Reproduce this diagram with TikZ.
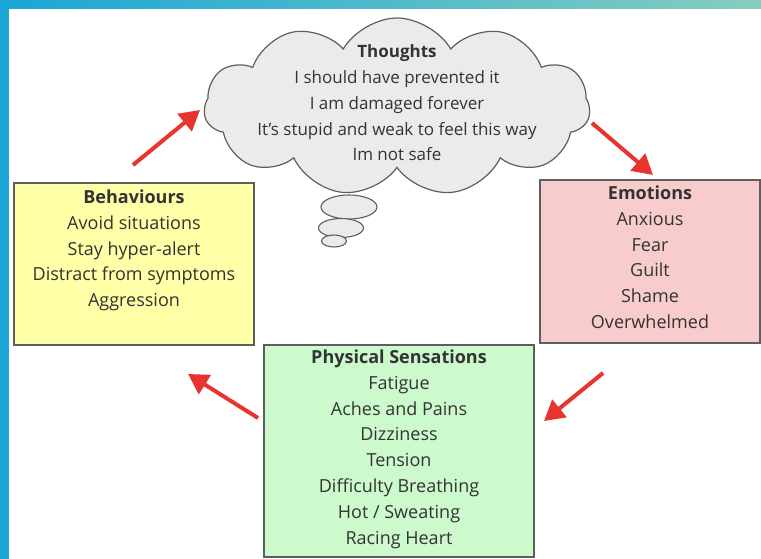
\documentclass[tikz,border=0pt]{standalone}
\usepackage{fontspec}
\setmainfont{Open Sans}
\usetikzlibrary{shapes.symbols,shapes.geometric,arrows.meta,positioning}

\definecolor{behavfill}{HTML}{FFFFA8}
\definecolor{emofill}{HTML}{F8CCCC}
\definecolor{physfill}{HTML}{CCFACC}
\definecolor{cloudfill}{HTML}{EBEBEB}
\definecolor{arrowred}{HTML}{E8332F}
\definecolor{inkgray}{HTML}{333333}
\definecolor{framegray}{HTML}{5E5E5E}
\definecolor{seablue}{HTML}{1AA6D6}
\definecolor{seateal}{HTML}{86CDBF}

\tikzset{
  box/.style={draw=framegray,line width=1.2pt,minimum width=#1},
  txt/.style={align=center,text=inkgray,font=\fontsize{18}{25.9}\selectfont,inner sep=0pt},
  bubble/.style={ellipse,draw=framegray,line width=1.1pt,fill=cloudfill,inner sep=0pt},
  cyclearrow/.style={draw=arrowred,line width=4pt,-{Triangle[length=20pt,width=22pt]}}
}

\begin{document}
\begin{tikzpicture}[x=1pt,y=-1pt]
  \useasboundingbox (0,0) rectangle (761,559);
  % background
  \shade[left color=seablue,right color=seateal] (0,0) rectangle (761,559);
  \fill[white] (9,9) rectangle (761,559);

  % thought cloud
  \node[bubble,minimum width=56pt,minimum height=24pt] (b1) at (349,207) {};
  \node[bubble,minimum width=45pt,minimum height=19pt] (b2) at (341,228) {};
  \node[bubble,minimum width=25pt,minimum height=12pt] (b3) at (334,241) {};
  \node[cloud,cloud puffs=11,cloud puff arc=120,draw=framegray,line width=1.2pt,
        fill=cloudfill,minimum width=386pt,minimum height=178pt] (cloud) at (397,107) {};
  \node[txt,font=\fontsize{17}{25.8}\selectfont] (thoughts) at (397,103)
    {\textbf{Thoughts}\\I should have prevented it\\I am damaged forever\\It's stupid and weak to feel this way\\Im not safe};

  % boxes
  \node[box=240pt,fill=behavfill,minimum height=162pt] (behav) at (134,264) {};
  \node[box=220pt,fill=emofill,minimum height=163pt] (emo) at (650,261.5) {};
  \node[box=270pt,fill=physfill,minimum height=212pt] (phys) at (399,451) {};

  \node[txt,below=7pt of behav.north] (behavtxt)
    {\textbf{Behaviours}\\Avoid situations\\Stay hyper-alert\\Distract from symptoms\\Aggression};
  \node[txt,below=6pt of emo.north] (emotxt)
    {\textbf{Emotions}\\Anxious\\Fear\\Guilt\\Shame\\Overwhelmed};
  \node[txt,below=5pt of phys.north] (phystxt)
    {\textbf{Physical Sensations}\\Fatigue\\Aches and Pains\\Dizziness\\Tension\\Difficulty Breathing\\Hot / Sweating\\Racing Heart};

  % arrow ends
  \coordinate (a1) at (133,165);  \coordinate (a1e) at (200,110);
  \coordinate (a2) at (592,123);  \coordinate (a2e) at (653,175);
  \coordinate (a3) at (603,373);  \coordinate (a3e) at (544,421);
  \coordinate (a4) at (258,418);  \coordinate (a4e) at (188,374);

  % arrows
  \draw[cyclearrow] (a1) -- (a1e);
  \draw[cyclearrow] (a2) -- (a2e);
  \draw[cyclearrow] (a3) -- (a3e);
  \draw[cyclearrow] (a4) -- (a4e);
\end{tikzpicture}
\end{document}
